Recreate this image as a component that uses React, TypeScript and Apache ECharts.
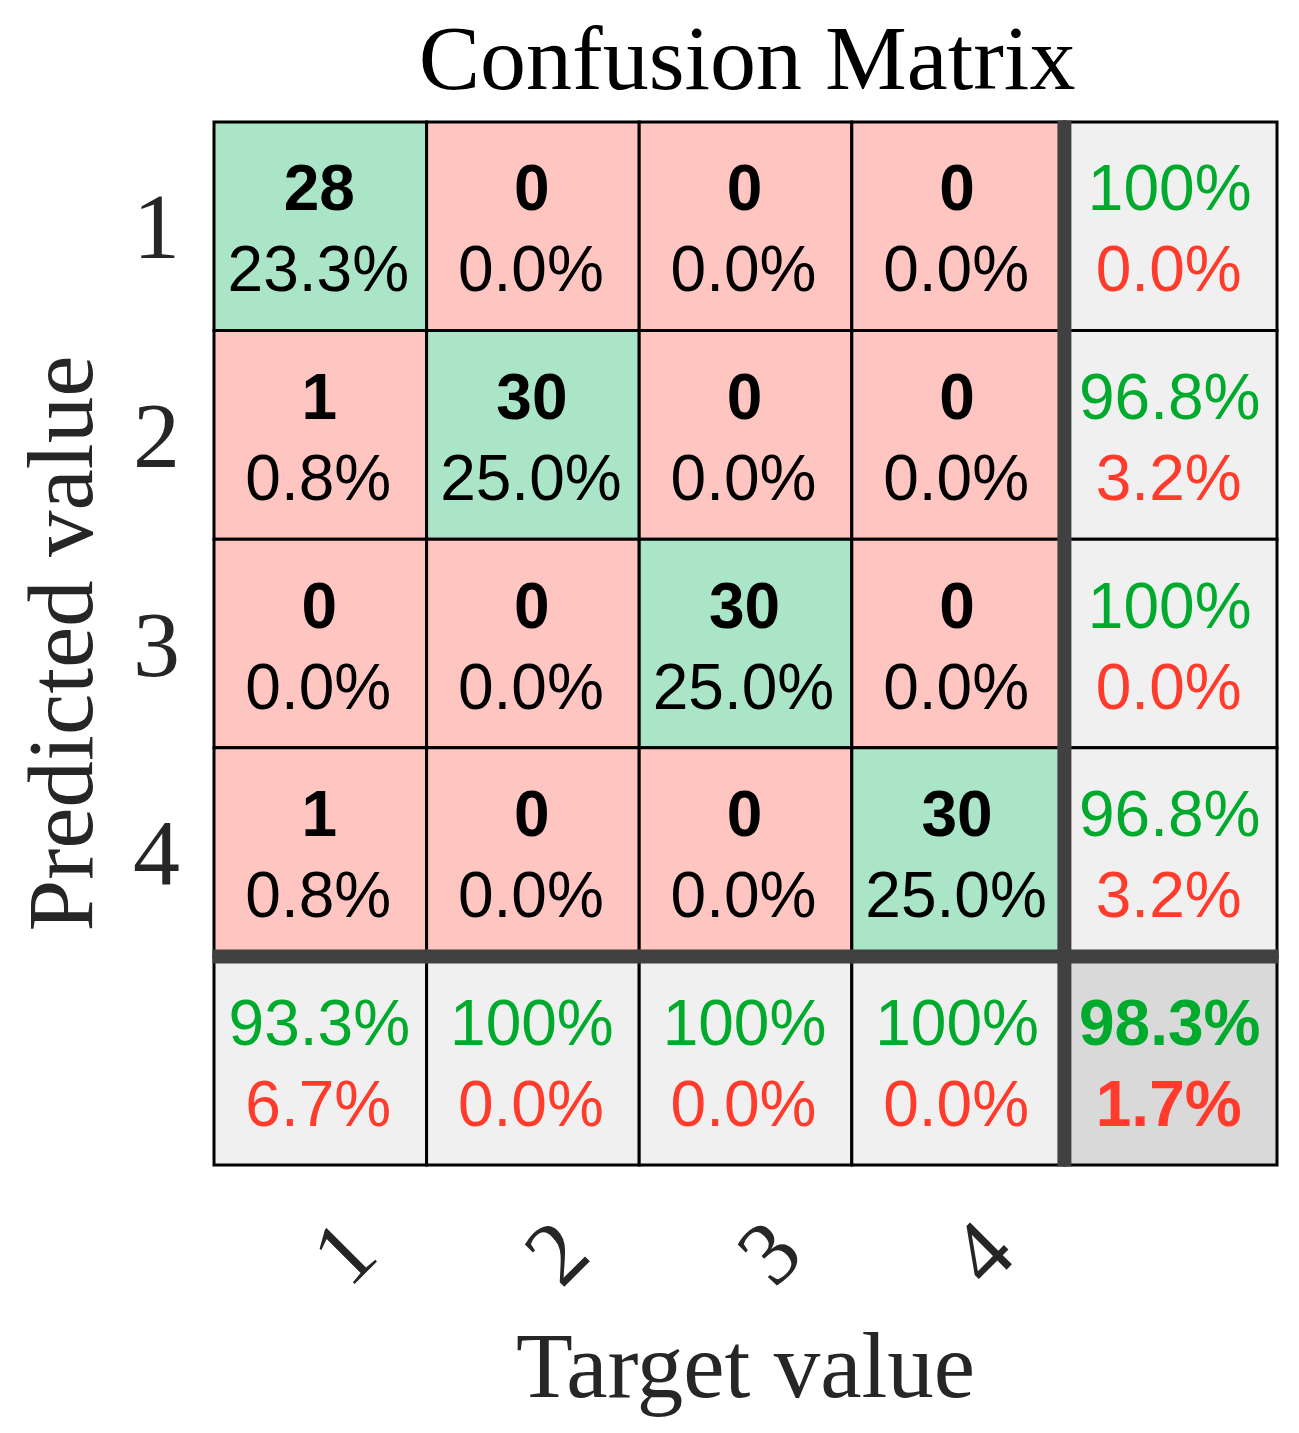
import React, { useEffect, useRef } from "react";
import * as echarts from "echarts";

const targetLabels = ["1", "2", "3", "4", ""];
const predictedLabels = ["1", "2", "3", "4", ""];
// rows = predicted class, columns = target class
const counts = [
  [28, 0, 0, 0],
  [1, 30, 0, 0],
  [0, 0, 30, 0],
  [1, 0, 0, 30],
];
const cellPct = [
  ["23.3%", "0.0%", "0.0%", "0.0%"],
  ["0.8%", "25.0%", "0.0%", "0.0%"],
  ["0.0%", "0.0%", "25.0%", "0.0%"],
  ["0.8%", "0.0%", "0.0%", "25.0%"],
];
const rowCorrect = ["100%", "96.8%", "100%", "96.8%"];
const rowWrong = ["0.0%", "3.2%", "0.0%", "3.2%"];
const colCorrect = ["93.3%", "100%", "100%", "100%"];
const colWrong = ["6.7%", "0.0%", "0.0%", "0.0%"];
const overallCorrect = "98.3%";
const overallWrong = "1.7%";

const GREEN_CELL = "#A9E5C6";
const RED_CELL = "#FFC5C1";
const GRAY_CELL = "#F0F0F0";
const CORNER_CELL = "#D9D9D9";
const GREEN_TEXT = "#00AA2D";
const RED_TEXT = "#FF3B2B";
const SEP = "#404040";
const SANS = '"Liberation Sans", Arial, sans-serif';
const SERIF = '"Liberation Serif", "Times New Roman", serif';

export default function App() {
  const ref = useRef<HTMLDivElement>(null);
  useEffect(() => {
    if (!ref.current) return;
    const chart = echarts.init(ref.current, null, { renderer: "svg" });
    const data: number[][] = [];
    for (let r = 0; r < 4; r++) for (let c = 0; c < 4; c++) data.push([c, r]);
    for (let r = 0; r < 4; r++) data.push([4, r]);
    for (let c = 0; c < 4; c++) data.push([c, 4]);
    data.push([4, 4]);

    const renderItem = (params: any, api: any) => {
      const x = api.value(0);
      const y = api.value(1);
      const p = api.coord([x, y]);
      const s = api.size([1, 1]);
      const x0 = p[0] - s[0] / 2;
      const y0 = p[1] - s[1] / 2;
      let fill = GRAY_CELL;
      let top = "";
      let bottom = "";
      let topColor = "#000";
      let bottomColor = "#000";
      let topBold = true;
      let bottomBold = false;
      if (x < 4 && y < 4) {
        fill = x === y ? GREEN_CELL : RED_CELL;
        top = String(counts[y][x]);
        bottom = cellPct[y][x];
      } else {
        topColor = GREEN_TEXT;
        bottomColor = RED_TEXT;
        topBold = false;
        if (x === 4 && y === 4) {
          fill = CORNER_CELL;
          top = overallCorrect;
          bottom = overallWrong;
          topBold = true;
          bottomBold = true;
        } else if (x === 4) {
          top = rowCorrect[y];
          bottom = rowWrong[y];
        } else {
          top = colCorrect[x];
          bottom = colWrong[x];
        }
      }
      const children: any[] = [
        {
          type: "rect",
          z2: 0,
          shape: { x: x0, y: y0, width: s[0], height: s[1] },
          style: { fill, stroke: "#000", lineWidth: 3 },
        },
        {
          type: "text",
          z2: 5,
          x: p[0] - 1,
          y: p[1] - 38,
          style: {
            text: top,
            fill: topColor,
            fontFamily: SANS,
            fontSize: 64,
            fontWeight: topBold ? "bold" : "normal",
            align: "center",
            verticalAlign: "middle",
          },
        },
        {
          type: "text",
          z2: 5,
          x: p[0] - 2,
          y: p[1] + 43,
          style: {
            text: bottom,
            fill: bottomColor,
            fontFamily: SANS,
            fontSize: 64,
            fontWeight: bottomBold ? "bold" : "normal",
            align: "center",
            verticalAlign: "middle",
          },
        },
      ];
      if (y === 4) {
        children.push({
          type: "line",
          z2: 10,
          shape: { x1: x0 - 1.5, y1: y0, x2: x0 + s[0] + 1.5, y2: y0 },
          style: { stroke: SEP, lineWidth: 14 },
        });
      }
      if (x === 4) {
        children.push({
          type: "line",
          z2: 11,
          shape: { x1: x0, y1: y0 - 1.5, x2: x0, y2: y0 + s[1] + 1.5 },
          style: { stroke: SEP, lineWidth: 14 },
        });
      }
      return { type: "group", children };
    };

    chart.setOption({
      animation: false,
      title: {
        text: "Confusion Matrix",
        left: 742,
        top: 7,
        textAlign: "center",
        textStyle: { fontFamily: SERIF, fontSize: 92, fontWeight: "normal", color: "#000" },
      },
      grid: { left: 214, top: 122, width: 1063, height: 1043 },
      xAxis: {
        type: "category",
        data: targetLabels,
        name: "Target value",
        nameLocation: "middle",
        nameGap: 154,
        nameTextStyle: { fontFamily: SERIF, fontSize: 93, color: "#262626" },
        axisLine: { show: false },
        axisTick: { show: false },
        splitLine: { show: false },
        axisLabel: {
          rotate: 45,
          margin: 110,
          align: "left",
          verticalAlign: "middle",
          padding: [0, 0, 0, 10],
          fontFamily: SERIF,
          fontSize: 90,
          color: "#262626",
        },
      },
      yAxis: {
        type: "category",
        data: predictedLabels,
        inverse: true,
        name: "Predicted value",
        nameLocation: "middle",
        nameGap: 107,
        nameTextStyle: { fontFamily: SERIF, fontSize: 93, color: "#262626" },
        axisLine: { show: false },
        axisTick: { show: false },
        splitLine: { show: false },
        axisLabel: {
          margin: 34,
          fontFamily: SERIF,
          fontSize: 94,
          color: "#262626",
        },
      },
      series: [
        {
          type: "custom",
          renderItem,
          data,
          encode: { x: 0, y: 1 },
          clip: false,
        },
      ],
    });
    return () => chart.dispose();
  }, []);
  return (
    <div
      ref={ref}
      style={{ position: "absolute", left: 0, top: 0, width: 1299, height: 1433, background: "#fff" }}
    />
  );
}
